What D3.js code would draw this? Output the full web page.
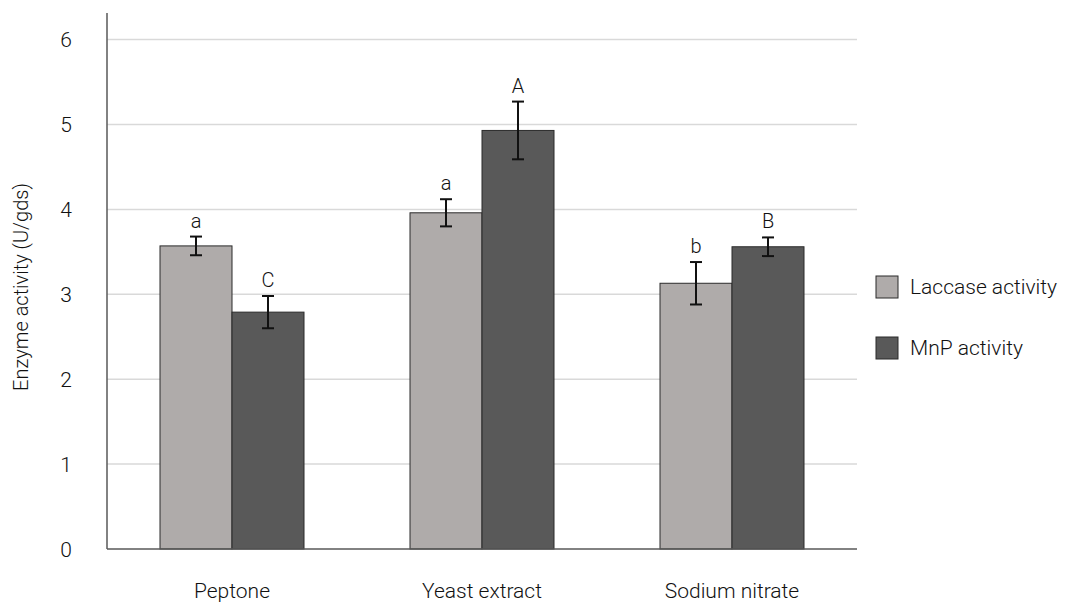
<!DOCTYPE html>
<html>
<head>
<meta charset="utf-8">
<script src="https://cdn.jsdelivr.net/npm/d3@7"></script>
<style>
  body { margin: 0; background: #fff; }
  text { font-family: Roboto, "Liberation Sans", sans-serif; font-weight: 300; fill: #111; }
</style>
</head>
<body>
<svg id="chart" width="1076" height="604"></svg>
<script>
// Nitrogen sources and measured enzyme activities (U/gds)
const categories = ["Peptone", "Yeast extract", "Sodium nitrate"];
const seriesNames = ["Laccase activity", "MnP activity"];
const laccase = [3.57, 3.96, 3.13];
const laccaseErr = [0.11, 0.16, 0.25];
const mnp = [2.79, 4.93, 3.56];
const mnpErr = [0.19, 0.34, 0.11];
const laccaseLetters = ["a", "a", "b"];
const mnpLetters = ["C", "A", "B"];
const yTicks = [0, 1, 2, 3, 4, 5, 6];

const colors = ["#afabaa", "#595959"];

const svg = d3.select("#chart");
const margin = { left: 107, right: 219, top: 13 };
const W = 1076;
const plotBottom = 549;

const x = d3.scaleBand().domain(categories).range([margin.left, W - margin.right]);
const y = d3.scaleLinear().domain([0, 6]).range([plotBottom, plotBottom - 6 * 84.9]);

const groupData = categories.map((c, i) => ({
  cat: c,
  vals: [
    { s: 0, v: laccase[i], e: laccaseErr[i], l: laccaseLetters[i] },
    { s: 1, v: mnp[i], e: mnpErr[i], l: mnpLetters[i] }
  ]
}));

const barW = 72;
const xs = d3.scaleBand().domain([0, 1]).range([0, barW * 2]);

// gridlines
svg.append("g").selectAll("line").data(yTicks.filter(t => t > 0)).join("line")
  .attr("x1", margin.left).attr("x2", W - margin.right)
  .attr("y1", d => y(d)).attr("y2", d => y(d))
  .attr("stroke", "#d9d9d9").attr("stroke-width", 1.5);

// y tick labels
svg.append("g").selectAll("text").data(yTicks).join("text")
  .attr("x", 72).attr("y", d => y(d)).attr("dy", "0.36em")
  .attr("text-anchor", "end").attr("font-size", 21).text(d => d);

// y axis title
svg.append("text")
  .attr("transform", `translate(28, 287) rotate(-90)`)
  .attr("text-anchor", "middle").attr("font-size", 20)
  .text("Enzyme activity (U/gds)");

// bars
const groups = svg.append("g").selectAll("g").data(groupData).join("g")
  .attr("transform", d => `translate(${x(d.cat) + x.bandwidth() / 2 - barW}, 0)`);

groups.selectAll("rect").data(d => d.vals).join("rect")
  .attr("x", d => xs(d.s)).attr("width", xs.bandwidth())
  .attr("y", d => y(d.v)).attr("height", d => y(0) - y(d.v))
  .attr("fill", d => colors[d.s]).attr("stroke", "#2b2b2b").attr("stroke-width", 1);

// error bars with significance letters
const cap = 6;
const eb = groups.selectAll("g.err").data(d => d.vals).join("g").attr("class", "err")
  .attr("transform", d => `translate(${xs(d.s) + xs.bandwidth() / 2}, 0)`);
eb.append("line").attr("x1", 0).attr("x2", 0)
  .attr("y1", d => y(d.v + d.e)).attr("y2", d => y(d.v - d.e))
  .attr("stroke", "#111").attr("stroke-width", 2);
eb.append("line").attr("x1", -cap).attr("x2", cap)
  .attr("y1", d => y(d.v + d.e)).attr("y2", d => y(d.v + d.e))
  .attr("stroke", "#111").attr("stroke-width", 2);
eb.append("line").attr("x1", -cap).attr("x2", cap)
  .attr("y1", d => y(d.v - d.e)).attr("y2", d => y(d.v - d.e))
  .attr("stroke", "#111").attr("stroke-width", 2);
eb.append("text").attr("x", 0).attr("y", d => y(d.v + d.e) - 9)
  .attr("text-anchor", "middle").attr("font-size", 20).text(d => d.l);

// axis lines
svg.append("line").attr("x1", margin.left).attr("x2", margin.left)
  .attr("y1", margin.top).attr("y2", y(0)).attr("stroke", "#595959").attr("stroke-width", 1.5);
svg.append("line").attr("x1", margin.left).attr("x2", W - margin.right)
  .attr("y1", y(0)).attr("y2", y(0)).attr("stroke", "#595959").attr("stroke-width", 1.5);

// category labels
svg.append("g").selectAll("text").data(categories).join("text")
  .attr("x", d => x(d) + x.bandwidth() / 2).attr("y", 598)
  .attr("text-anchor", "middle").attr("font-size", 21).text(d => d);

// legend
const legend = svg.append("g").selectAll("g").data(seriesNames).join("g")
  .attr("transform", (d, i) => `translate(876, ${276 + i * 61})`);
legend.append("rect").attr("width", 22).attr("height", 22)
  .attr("fill", (d, i) => colors[i]).attr("stroke", "#2b2b2b").attr("stroke-width", 1);
legend.append("text").attr("x", 34).attr("y", 11).attr("dy", "0.35em")
  .attr("font-size", 21).text(d => d);
</script>
</body>
</html>
